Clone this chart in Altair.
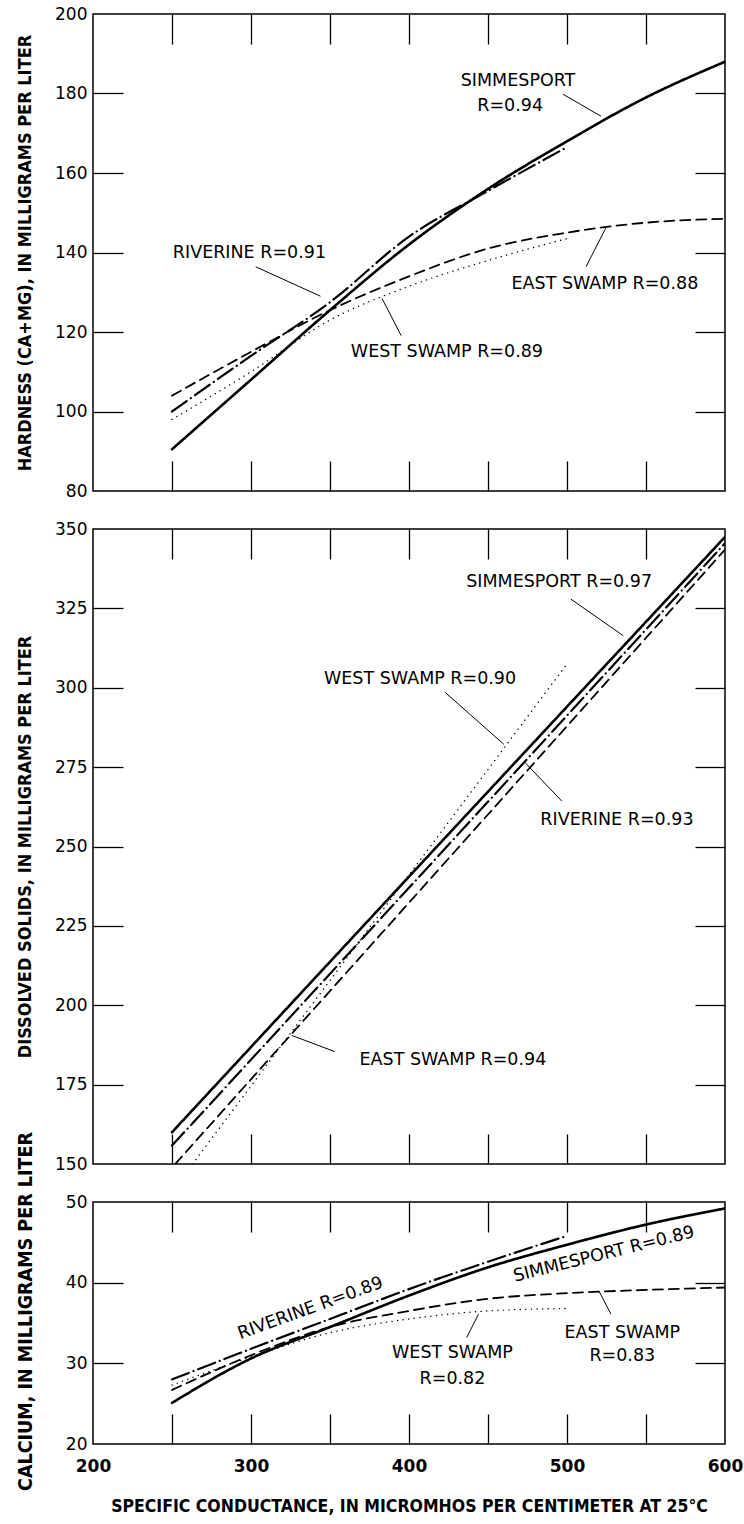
import altair as alt
import pandas as pd

# ---------------- data ----------------
X_DOMAIN = [200, 600]
X_LABEL_TICKS = [200, 300, 400, 500, 600]
X_INNER_TICKS = [250, 300, 350, 400, 450, 500, 550]
SERIES = ["SIMMESPORT", "RIVERINE", "EAST SWAMP", "WEST SWAMP"]

# Panel 1: hardness
hard_sim_x = [250, 300, 350, 400, 450, 500, 550, 600]
hard_sim_y = [90.5, 108, 125.5, 142, 156, 168, 179, 188]
hard_riv_x = [250, 300, 350, 400, 450, 500]
hard_riv_y = [100, 114, 127.5, 144, 155.5, 166.5]
hard_east_x = [250, 300, 350, 400, 450, 500, 550, 600]
hard_east_y = [104, 115, 125.5, 134, 141, 145, 147.5, 148.5]
hard_west_x = [250, 300, 350, 400, 450, 500]
hard_west_y = [98, 110, 123, 131.5, 138, 143.5]
hard_ticks = [80, 100, 120, 140, 160, 180, 200]
hard_inner = [100, 120, 140, 160, 180]

# Panel 2: dissolved solids
diss_sim_x = [250, 400, 600]
diss_sim_y = [160, 240.5, 347.5]
diss_riv_x = [250, 400, 600]
diss_riv_y = [155.8, 237, 345.5]
diss_east_x = [252, 400, 600]
diss_east_y = [150, 232.3, 343.5]
diss_west_x = [263, 500]
diss_west_y = [150, 307.5]
diss_ticks = [150, 175, 200, 225, 250, 275, 300, 325, 350]
diss_inner = [175, 200, 225, 250, 275, 300, 325]

# Panel 3: calcium
calc_sim_x = [250, 300, 350, 400, 450, 500, 550, 600]
calc_sim_y = [25.1, 30.6, 34.5, 38.4, 41.9, 44.7, 47.2, 49.2]
calc_riv_x = [250, 300, 350, 400, 450, 500]
calc_riv_y = [28, 31.8, 35.5, 39.2, 42.6, 45.8]
calc_east_x = [250, 300, 350, 400, 450, 500, 550, 600]
calc_east_y = [26.7, 31, 34.5, 36.5, 38, 38.7, 39.1, 39.4]
calc_west_x = [250, 300, 350, 400, 450, 500]
calc_west_y = [27.3, 30.8, 33.8, 35.5, 36.5, 36.8]
calc_ticks = [20, 30, 40, 50]
calc_inner = [30, 40]

# annotation texts
hard_lab_text = ["SIMMESPORT", "R=0.94", "RIVERINE  R=0.91", "EAST SWAMP  R=0.88", "WEST SWAMP  R=0.89"]
hard_lab_x = [469, 464, 299, 524, 424]
hard_lab_y = [183.2, 176.8, 139.8, 132.2, 115]
hard_lead_x = [497.5, 303, 512, 395]
hard_lead_y = [179.8, 136.4, 136.4, 119.1]
hard_lead_x2 = [521.5, 344, 525, 383]
hard_lead_y2 = [174.3, 129, 146.5, 128.4]

diss_lab_text = ["SIMMESPORT  R=0.97", "WEST SWAMP  R=0.90", "RIVERINE  R=0.93", "EAST SWAMP  R=0.94"]
diss_lab_x = [495, 407, 531.6, 427.8]
diss_lab_y = [333.2, 302.7, 258.5, 182.6]
diss_lead_x = [502.5, 423, 496.7, 353]
diss_lead_y = [327.9, 298.5, 264.3, 185.4]
diss_lead_x2 = [535.6, 460, 473.5, 325.8]
diss_lead_y2 = [316.4, 282.2, 276.4, 190.5]

calc_lab_text = ["RIVERINE  R=0.89", "SIMMESPORT  R=0.89", "WEST SWAMP", "R=0.82", "EAST SWAMP", "R=0.83"]
calc_lab_x = [337.7, 523.4, 427.5, 427.5, 535, 535]
calc_lab_y = [36.8, 43.5, 31.3, 28, 33.8, 30.9]
calc_lab_angle = [340, 346, 0, 0, 0, 0]
calc_lead_x = [436.5, 527.8]
calc_lead_y = [33.2, 36.1]
calc_lead_x2 = [444, 520.4]
calc_lead_y2 = [36.1, 38.9]

# ---------------- styling ----------------
FONT = "DejaVu Sans"
BOLD_FONT = "'DejaVu Sans Condensed', 'DejaVu Sans'"
DASH_RANGE = [[1, 0], [18, 5, 0.1, 5], [10, 6], [0.1, 5.5]]
WIDTH_RANGE = [2.6, 1.4, 1.4, 3.0]
TL = 30  # inward tick length
PLOT_W = 632
X_TITLE = "SPECIFIC CONDUCTANCE, IN MICROMHOS PER CENTIMETER AT 25°C"


def lines_frame(parts):
    rows = []
    for name, xs, ys in parts:
        for x, y in zip(xs, ys):
            rows.append({"series": name, "x": x, "y": y})
    return pd.DataFrame(rows)


def panel(parts, lab, lead, ydom, yticks, yinner, height, ytitle, bottom,
          title_size=18, title_shift=0):
    df = lines_frame(parts)
    xs = alt.Scale(domain=X_DOMAIN, nice=False, zero=False)
    ys = alt.Scale(domain=ydom, nice=False, zero=False)
    if bottom:
        xaxis = alt.Axis(orient="bottom", values=X_LABEL_TICKS, tickSize=0, domain=False,
                         grid=False, labelPadding=14, labelFont=FONT, labelFontSize=17,
                         labelFontWeight="bold", labelColor="black", labelFlush=False,
                         title=X_TITLE, titleFont=BOLD_FONT, titleFontSize=17.5,
                         titleFontWeight="bold", titleColor="black", titlePadding=23)
    else:
        xaxis = None
    yaxis = alt.Axis(orient="left", values=yticks, tickSize=0, domain=False, grid=False,
                     labelPadding=6, labelFont=FONT, labelFontSize=17, labelColor="black",
                     title=ytitle, titleFont=BOLD_FONT, titleFontSize=title_size,
                     titleFontWeight="bold", titleColor="black", titleAngle=270,
                     titleX=-68, titleY=height / 2 + title_shift,
                     titleAlign="center", titleBaseline="middle")
    lines = alt.Chart(df).mark_line(clip=True, color="black", strokeCap="round",
                                    interpolate="monotone").encode(
        x=alt.X("x:Q", scale=xs, axis=xaxis),
        y=alt.Y("y:Q", scale=ys, axis=yaxis),
        detail="series:N",
        strokeDash=alt.StrokeDash("series:N", scale=alt.Scale(domain=SERIES, range=DASH_RANGE), legend=None),
        strokeWidth=alt.StrokeWidth("series:N", scale=alt.Scale(domain=SERIES, range=WIDTH_RANGE), legend=None),
    )

    def tick_axis(orient, values):
        return alt.Axis(orient=orient, values=values, tickSize=TL, offset=-TL, labels=False,
                        domain=False, grid=False, title=None, tickColor="black", tickWidth=1.3,
                        minExtent=0, maxExtent=0)

    ticks_a = alt.Chart(df).mark_point(opacity=0).encode(
        x=alt.X("x:Q", scale=xs, axis=tick_axis("top", X_INNER_TICKS)),
        y=alt.Y("y:Q", scale=ys, axis=tick_axis("right", yinner)),
    )
    ticks_b = alt.Chart(df).mark_point(opacity=0).encode(
        x=alt.X("x:Q", scale=xs, axis=tick_axis("bottom", X_INNER_TICKS)),
        y=alt.Y("y:Q", scale=ys, axis=tick_axis("left", yinner)),
    )
    text = alt.Chart(lab).mark_text(font=FONT, fontSize=17.5, align="center", baseline="middle",
                                    color="black").encode(
        x=alt.X("x:Q", scale=xs, axis=None),
        y=alt.Y("y:Q", scale=ys, axis=None),
        text="text:N",
        angle=alt.Angle("angle:Q", scale=None),
    )
    leaders = alt.Chart(lead).mark_rule(color="black", strokeWidth=1).encode(
        x=alt.X("x:Q", scale=xs, axis=None),
        y=alt.Y("y:Q", scale=ys, axis=None),
        x2="x2:Q",
        y2="y2:Q",
    )
    return alt.layer(lines, ticks_a, ticks_b, leaders, text).resolve_axis(
        x="independent", y="independent").properties(width=PLOT_W, height=height)


p1 = panel(
    [("SIMMESPORT", hard_sim_x, hard_sim_y), ("RIVERINE", hard_riv_x, hard_riv_y),
     ("EAST SWAMP", hard_east_x, hard_east_y), ("WEST SWAMP", hard_west_x, hard_west_y)],
    pd.DataFrame({"text": hard_lab_text, "x": hard_lab_x, "y": hard_lab_y, "angle": [0] * 5}),
    pd.DataFrame({"x": hard_lead_x, "y": hard_lead_y, "x2": hard_lead_x2, "y2": hard_lead_y2}),
    [80, 200], hard_ticks, hard_inner, 477,
    "HARDNESS (CA+MG), IN MILLIGRAMS PER LITER", False)

p2 = panel(
    [("SIMMESPORT", diss_sim_x, diss_sim_y), ("RIVERINE", diss_riv_x, diss_riv_y),
     ("EAST SWAMP", diss_east_x, diss_east_y), ("WEST SWAMP", diss_west_x, diss_west_y)],
    pd.DataFrame({"text": diss_lab_text, "x": diss_lab_x, "y": diss_lab_y, "angle": [0] * 4}),
    pd.DataFrame({"x": diss_lead_x, "y": diss_lead_y, "x2": diss_lead_x2, "y2": diss_lead_y2}),
    [150, 350], diss_ticks, diss_inner, 635,
    "DISSOLVED SOLIDS, IN MILLIGRAMS PER LITER", False)

p3 = panel(
    [("SIMMESPORT", calc_sim_x, calc_sim_y), ("RIVERINE", calc_riv_x, calc_riv_y),
     ("EAST SWAMP", calc_east_x, calc_east_y), ("WEST SWAMP", calc_west_x, calc_west_y)],
    pd.DataFrame({"text": calc_lab_text, "x": calc_lab_x, "y": calc_lab_y, "angle": calc_lab_angle}),
    pd.DataFrame({"x": calc_lead_x, "y": calc_lead_y, "x2": calc_lead_x2, "y2": calc_lead_y2}),
    [20, 50], calc_ticks, calc_inner, 242,
    "CALCIUM, IN MILLIGRAMS PER LITER", True, title_size=19.5, title_shift=-12)

chart = alt.vconcat(p1, p2, p3, spacing=38, bounds="flush").properties(
    padding={"left": 14, "top": 4, "right": 0, "bottom": 0},
    background="white",
).configure_view(stroke="black", strokeWidth=1.5)

chart.save("out.html", embed_options={"renderer": "svg", "actions": False})
